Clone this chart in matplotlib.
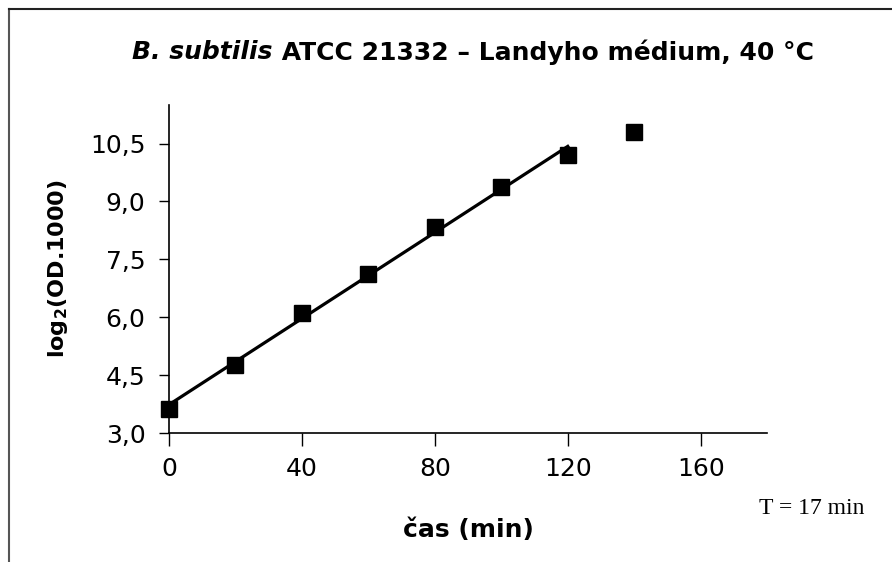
import numpy as np
import matplotlib
matplotlib.use("Agg")
import matplotlib.pyplot as plt
from matplotlib.ticker import FuncFormatter

time_min = [0, 20, 40, 60, 80, 100, 120, 140]
log2_od = [3.62, 4.77, 6.11, 7.13, 8.35, 9.38, 10.21, 10.80]
n_fit = 7  # points used for exponential-phase fit
x_ticks = [0, 40, 80, 120, 160]
y_ticks = [3.0, 4.5, 6.0, 7.5, 9.0, 10.5]

plt.rcParams['font.family'] = ['DejaVu Sans']
plt.rcParams['mathtext.fontset'] = 'dejavusans'

fig = plt.figure(figsize=(8.92, 5.62), dpi=100)
ax = fig.add_axes([0.1895, 0.2295, 0.6705, 0.5837])

# figure border (left and top)
fig.add_artist(plt.Line2D([9/892, 9/892], [0, 1 - 9/562], transform=fig.transFigure, color='#555555', lw=1.5))
fig.add_artist(plt.Line2D([9/892, 1], [1 - 9/562, 1 - 9/562], transform=fig.transFigure, color='#222222', lw=1.5))

xf = np.array(time_min[:n_fit], dtype=float)
yf = np.array(log2_od[:n_fit], dtype=float)
k, b = np.polyfit(xf, yf, 1)
xl = np.array([xf[0], xf[-1]])
ax.plot(xl, k * xl + b, color='black', lw=2.3, zorder=2)
ax.plot(time_min, log2_od, linestyle='none', marker='s', markersize=11,
        color='black', zorder=3, clip_on=False)

ax.set_xlim(0, 180)
ax.set_ylim(3.0, 11.5)
ax.set_xticks(x_ticks)
ax.set_yticks(y_ticks)
ax.yaxis.set_major_formatter(FuncFormatter(lambda v, p: f"{v:.1f}".replace('.', ',')))
ax.tick_params(axis='both', labelsize=18, color='black', width=1)
ax.tick_params(axis='x', length=9, direction='out', pad=8)
ax.tick_params(axis='y', length=7, direction='out', pad=10)
for s in ['top', 'right']:
    ax.spines[s].set_visible(False)
for s in ['left', 'bottom']:
    ax.spines[s].set_linewidth(1.2)

ax.set_xlabel('čas (min)', fontsize=18, fontweight='bold', labelpad=27)
ax.set_ylabel(r'log$_\mathbf{2}$(OD.1000)', fontsize=16, fontweight='bold', labelpad=14)

t1 = fig.text(0.0, 1 - 52/562, 'B. subtilis', fontsize=18, fontweight='bold', style='italic', va='center')
t2 = fig.text(0.0, 1 - 52/562, ' ATCC 21332 – Landyho médium, 40 °C', fontsize=18, fontweight='bold', va='center')
fig.canvas.draw()
r = fig.canvas.get_renderer()
w1 = t1.get_window_extent(r).width / fig.bbox.width
w2 = t2.get_window_extent(r).width / fig.bbox.width
start = 473/892 - (w1 + w2) / 2
t1.set_x(start)
t2.set_x(start + w1)

fig.text(759/892, 1 - 508/562, 'T = 17 min', fontsize=17, family=['Liberation Serif', 'DejaVu Serif'], va='center')

fig.savefig('out.png', dpi=100)
